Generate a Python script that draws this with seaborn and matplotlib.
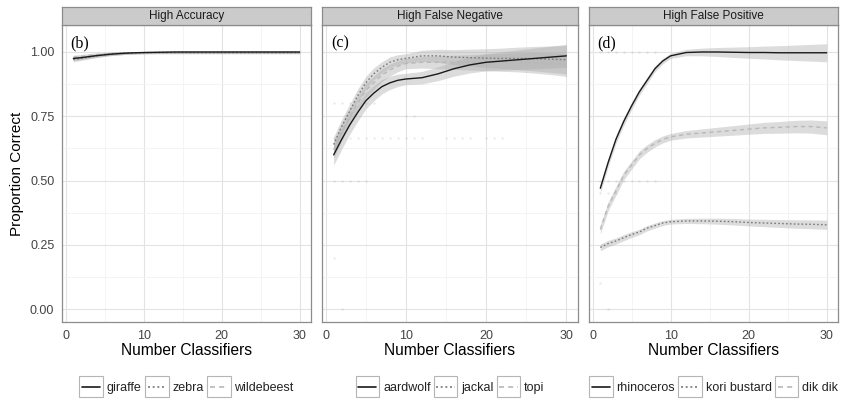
import numpy as np
import pandas as pd
import seaborn as sns
import matplotlib
matplotlib.use("Agg")
import matplotlib.pyplot as plt
from matplotlib.lines import Line2D
from matplotlib.patches import Rectangle

# ---------------- data ----------------
n_classifiers = [1, 2, 3, 4, 5, 6, 7, 8, 9, 10, 12, 14, 16, 18, 20, 22, 24, 26, 28, 30]

panel_titles = ["High Accuracy", "High False Negative", "High False Positive"]
panel_tags = ["(b)", "(c)", "(d)"]
panel_species = [["giraffe", "zebra", "wildebeest"],
                 ["aardwolf", "jackal", "topi"],
                 ["rhinoceros", "kori bustard", "dik dik"]]

giraffe    = [0.975, 0.978, 0.982, 0.986, 0.989, 0.992, 0.994, 0.996, 0.997, 0.998, 0.999, 1.0, 1.0, 1.0, 1.0, 1.0, 1.0, 1.0, 1.0, 1.0]
zebra      = [0.970, 0.975, 0.980, 0.985, 0.990, 0.993, 0.995, 0.996, 0.997, 0.997, 0.998, 0.998, 0.998, 0.998, 0.998, 0.998, 0.998, 0.998, 0.998, 0.998]
wildebeest = [0.980, 0.983, 0.987, 0.990, 0.992, 0.994, 0.995, 0.996, 0.997, 0.997, 0.997, 0.997, 0.997, 0.997, 0.997, 0.997, 0.997, 0.997, 0.997, 0.997]

aardwolf = [0.60, 0.66, 0.716, 0.765, 0.81, 0.84, 0.865, 0.88, 0.89, 0.895, 0.90, 0.915, 0.935, 0.95, 0.96, 0.965, 0.97, 0.975, 0.98, 0.985]
jackal   = [0.64, 0.71, 0.77, 0.83, 0.88, 0.915, 0.94, 0.96, 0.97, 0.975, 0.985, 0.985, 0.98, 0.978, 0.976, 0.975, 0.975, 0.974, 0.972, 0.97]
topi     = [0.62, 0.69, 0.75, 0.80, 0.85, 0.88, 0.91, 0.93, 0.945, 0.955, 0.96, 0.96, 0.96, 0.96, 0.96, 0.96, 0.96, 0.958, 0.955, 0.95]

rhinoceros   = [0.47, 0.57, 0.66, 0.73, 0.79, 0.845, 0.89, 0.935, 0.965, 0.985, 0.998, 1.0, 1.0, 0.999, 0.998, 0.998, 0.997, 0.997, 0.997, 0.997]
kori_bustard = [0.24, 0.255, 0.265, 0.278, 0.29, 0.30, 0.315, 0.325, 0.335, 0.34, 0.343, 0.343, 0.342, 0.34, 0.337, 0.335, 0.333, 0.331, 0.33, 0.328]
dik_dik      = [0.31, 0.40, 0.46, 0.52, 0.56, 0.60, 0.625, 0.645, 0.66, 0.67, 0.68, 0.685, 0.69, 0.695, 0.70, 0.705, 0.707, 0.71, 0.71, 0.705]

# half-width of the confidence ribbon (start, middle, end)
band_giraffe    = [0.008, 0.004, 0.004]
band_zebra      = [0.008, 0.004, 0.004]
band_wildebeest = [0.008, 0.004, 0.004]
band_aardwolf   = [0.04, 0.022, 0.045]
band_jackal     = [0.03, 0.018, 0.055]
band_topi       = [0.035, 0.02, 0.045]
band_rhinoceros = [0.018, 0.01, 0.035]
band_kori       = [0.013, 0.009, 0.018]
band_dikdik     = [0.018, 0.013, 0.027]

# faint raw observations (number classifiers, proportion correct)
raw_c_x = [1, 2, 3, 4, 5, 1, 2, 3, 4, 5, 6, 7, 8, 9, 10, 11, 12, 15, 16, 17, 18, 20, 21, 22, 1, 2, 3, 5, 6, 10, 11, 1, 2]
raw_c_y = [0.5, 0.5, 0.5, 0.5, 0.5, 0.667, 0.667, 0.667, 0.667, 0.667, 0.667, 0.667, 0.667, 0.667, 0.667, 0.667, 0.667, 0.667, 0.667, 0.667, 0.667, 0.667, 0.667, 0.667, 0.8, 0.8, 0.8, 0.8, 0.8, 0.75, 0.75, 0.2, 0.0]
raw_d_x = [1, 2, 3, 4, 5, 6, 7, 8, 1, 2, 3, 4, 5, 6, 7, 8, 1, 2, 3, 1, 2]
raw_d_y = [1.0, 1.0, 1.0, 1.0, 1.0, 1.0, 1.0, 1.0, 0.5, 0.5, 0.5, 0.5, 0.5, 0.5, 0.5, 0.5, 0.45, 0.45, 0.45, 0.1, 0.0]

# ---------------- style ----------------
sns.set_theme(style="white")
plt.rcParams['font.family'] = ['Liberation Sans', 'DejaVu Sans']

values = {"giraffe": giraffe, "zebra": zebra, "wildebeest": wildebeest,
          "aardwolf": aardwolf, "jackal": jackal, "topi": topi,
          "rhinoceros": rhinoceros, "kori bustard": kori_bustard, "dik dik": dik_dik}
bands = {"giraffe": band_giraffe, "zebra": band_zebra, "wildebeest": band_wildebeest,
         "aardwolf": band_aardwolf, "jackal": band_jackal, "topi": band_topi,
         "rhinoceros": band_rhinoceros, "kori bustard": band_kori, "dik dik": band_dikdik}

line_colors = ["#1a1a1a", "#7a7a7a", "#b8b8b8"]
line_styles = ["-", (0, (1.2, 1.6)), (0, (3, 2.5))]


class KeyHandler:
    """ggplot-like legend key: bordered square box with a line through it."""
    def __init__(self, color, ls):
        self.color, self.ls = color, ls

    def legend_artist(self, legend, orig_handle, fontsize, handlebox):
        x0, y0 = handlebox.xdescent, handlebox.ydescent
        w, h = handlebox.width, handlebox.height
        bh = 2.3 * h
        cy = -y0 + h * 0.5
        box = Rectangle((-x0, cy - bh / 2), w, bh, facecolor="white", edgecolor="#b5b5b5",
                        linewidth=0.8, transform=handlebox.get_transform())
        ln = Line2D([-x0 + 0.12 * w, -x0 + 0.88 * w], [cy, cy],
                    color=self.color, linestyle=self.ls, linewidth=1.2,
                    transform=handlebox.get_transform())
        handlebox.add_artist(box)
        handlebox.add_artist(ln)
        return box


fig = plt.figure(figsize=(8.41, 4.01), dpi=100)
W, H = 841, 401
panels_px = [(62, 311), (322, 578), (589, 838)]
top_px, bot_px, strip_px = 25, 322, 18

xs = np.array(n_classifiers, dtype=float)

for i, (l, r) in enumerate(panels_px):
    ax = fig.add_axes([l / W, 1 - bot_px / H, (r - l) / W, (bot_px - top_px) / H])
    ax.set_facecolor("white")
    ax.set_xlim(-0.45, 31.45)
    ax.set_ylim(-0.05, 1.105)
    ax.set_xticks([0, 10, 20, 30])
    ax.set_xticks([5, 15, 25], minor=True)
    ax.set_yticks([0, 0.25, 0.5, 0.75, 1.0])
    ax.set_yticks([0.125, 0.375, 0.625, 0.875], minor=True)
    ax.grid(True, which="major", color="#e3e3e3", linewidth=0.8)
    ax.grid(True, which="minor", color="#f2f2f2", linewidth=0.6)
    ax.set_axisbelow(True)
    for s in ax.spines.values():
        s.set_color("#8c8c8c")
        s.set_linewidth(0.9)

    if i == 1:
        ax.scatter(raw_c_x, raw_c_y, s=3, color="#999999", alpha=0.2, linewidths=0, zorder=1)
    if i == 2:
        ax.scatter(raw_d_x, raw_d_y, s=3, color="#999999", alpha=0.2, linewidths=0, zorder=1)

    keys = []
    for j, sp in enumerate(panel_species[i]):
        v = np.array(values[sp])
        b0, b1, b2 = bands[sp]
        hw = np.where(xs <= 10, b0 + (b1 - b0) * (xs - 1) / 9, b1 + (b2 - b1) * (xs - 10) / 20)
        ax.fill_between(xs, v - hw, v + hw, color="#acacac", alpha=0.42, linewidth=0, zorder=2)
    for j, sp in enumerate(panel_species[i]):
        df = pd.DataFrame({"x": n_classifiers, "y": values[sp]})
        sns.lineplot(data=df, x="x", y="y", ax=ax, color=line_colors[j],
                     linestyle=line_styles[j], linewidth=1.0, zorder=3 + (2 - j))
        keys.append(Rectangle((0, 0), 1, 1))

    ax.set_xlabel("Number Classifiers", fontsize=11.2, color="black", labelpad=1)
    if i == 0:
        ax.set_ylabel("Proportion Correct", fontsize=11, color="black", labelpad=4)
        ax.set_yticklabels(["0.00", "0.25", "0.50", "0.75", "1.00"])
    else:
        ax.set_ylabel("")
        ax.set_yticklabels([])
    ax.tick_params(axis="both", which="major", direction="out", length=3.5, width=1.0,
                   color="#333333", labelsize=9, labelcolor="#444444", pad=2)
    ax.tick_params(axis="both", which="minor", length=0)
    if i != 0:
        ax.tick_params(axis="y", which="major", length=0)

    ax.text(0.035, 0.965, panel_tags[i], transform=ax.transAxes, fontsize=11.5,
            family=["Liberation Serif", "DejaVu Serif"], va="top", ha="left", color="black")

    sax = fig.add_axes([l / W, 1 - top_px / H, (r - l) / W, strip_px / H])
    sax.set_facecolor("#cbcbcb")
    sax.set_xticks([]); sax.set_yticks([])
    for s in sax.spines.values():
        s.set_color("#8c8c8c"); s.set_linewidth(0.9)
    sax.text(0.5, 0.48, panel_titles[i], transform=sax.transAxes, ha="center", va="center",
             fontsize=8.5, color="#1a1a1a")

    hmap = {k: KeyHandler(line_colors[j], line_styles[j]) for j, k in enumerate(keys)}
    ax.legend(keys, panel_species[i], handler_map=hmap,
              loc="center", bbox_to_anchor=(0.5, -0.222), ncol=3, frameon=False,
              fontsize=9, handlelength=1.9, handleheight=0.7, handletextpad=0.3,
              columnspacing=0.25, borderpad=0, labelcolor="#222222")

fig.savefig("out.png", dpi=100)
